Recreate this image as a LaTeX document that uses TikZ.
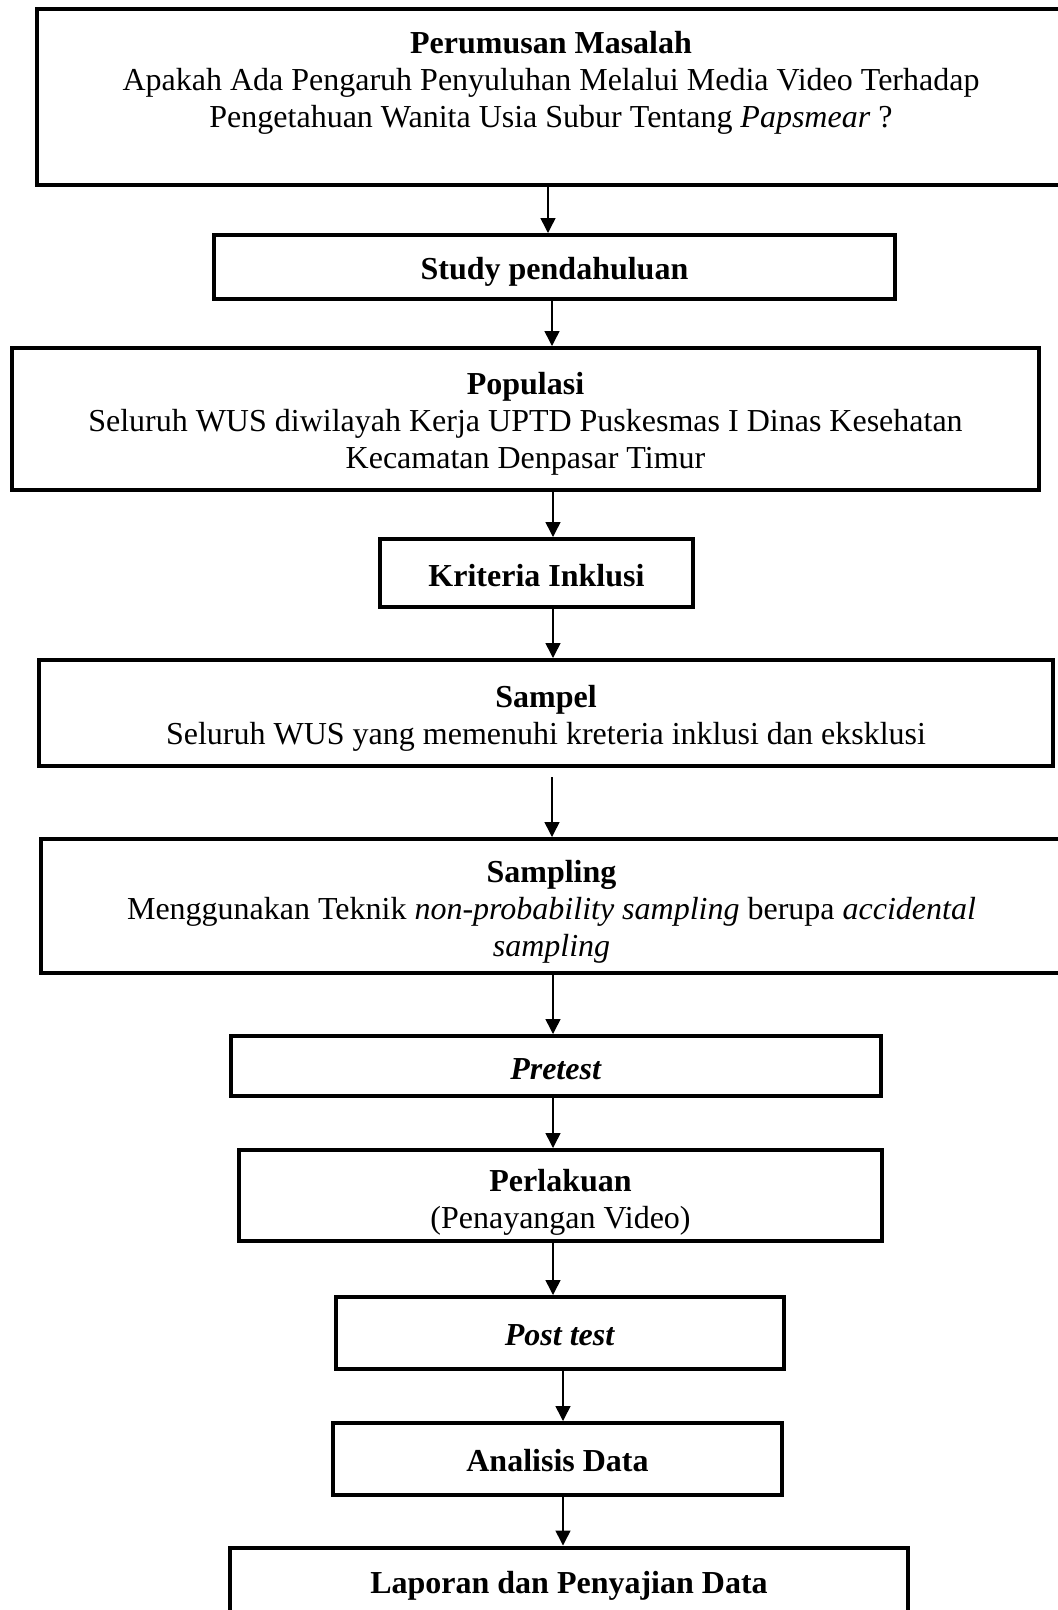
\documentclass[tikz,border=0pt]{standalone}
\usepackage{fontspec}
\setmainfont{Liberation Serif}
\usetikzlibrary{arrows.meta}
\tikzset{
  box/.style={draw, line width=4pt, inner sep=0pt},
  txt/.style={align=center, inner sep=0pt, font=\fontsize{32}{37}\selectfont},
  arr/.style={line width=1.5pt, -{Triangle[length=15pt,width=15pt]}}
}
\begin{document}
\begin{tikzpicture}[x=1pt,y=-1pt]
\useasboundingbox (0,0) rectangle (1058,1610);
\node[box, minimum width=1029pt, minimum height=176pt] (b1) at (551.5,97) {};
\node[txt] (t1) at (551,83) {\textbf{Perumusan Masalah}\\Apakah Ada Pengaruh Penyuluhan Melalui Media Video Terhadap\\Pengetahuan Wanita Usia Subur Tentang \textit{Papsmear} ?};
\node[box, minimum width=681pt, minimum height=64pt] (b2) at (554.5,267) {};
\node[txt] (t2) at ([yshift=-5pt]b2.center) {\textbf{Study pendahuluan}};
\node[box, minimum width=1027pt, minimum height=142pt] (b3) at (525.5,419) {};
\node[txt] (t3) at ([yshift=-5pt]b3.center) {\textbf{Populasi}\\Seluruh WUS diwilayah Kerja UPTD Puskesmas I Dinas Kesehatan\\Kecamatan Denpasar Timur};
\node[box, minimum width=313pt, minimum height=68pt] (b4) at (536.5,573) {};
\node[txt] (t4) at ([yshift=-3pt]b4.center) {\textbf{Kriteria Inklusi}};
\node[box, minimum width=1014pt, minimum height=106pt] (b5) at (546,713) {};
\node[txt] (t5) at ([yshift=-5pt]b5.center) {\textbf{Sampel}\\Seluruh WUS yang memenuhi kreteria inklusi dan eksklusi};
\node[box, minimum width=1021pt, minimum height=134pt] (b6) at (551.5,906) {};
\node[txt] (t6) at ([yshift=-6pt]b6.center) {\textbf{Sampling}\\Menggunakan Teknik \textit{non-probability sampling} berupa \textit{accidental}\\\textit{sampling}};
\node[box, minimum width=650pt, minimum height=60pt] (b7) at (556,1066) {};
\node[txt] (t7) at ([yshift=-3pt]b7.center) {\textbf{\textit{Pretest}}};
\node[box, minimum width=643pt, minimum height=91pt] (b8) at (560.5,1195.5) {};
\node[txt] (t8) at ([yshift=-6.5pt]b8.center) {\textbf{Perlakuan}\\(Penayangan Video)};
\node[box, minimum width=448pt, minimum height=72pt] (b9) at (560,1333) {};
\node[txt] (t9) at ([yshift=-2pt]b9.center) {\textbf{\textit{Post test}}};
\node[box, minimum width=449pt, minimum height=72pt] (b10) at (557.5,1459) {};
\node[txt] (t10) at ([yshift=-2pt]b10.center) {\textbf{Analisis Data}};
\node[box, minimum width=678pt, minimum height=72.5pt] (b11) at (569,1583.75) {};
\node[txt] (t11) at ([yshift=-2pt]b11.center) {\textbf{Laporan dan Penyajian Data}};
\draw[arr] (b1.south -| 548,0) -- (b2.north -| 548,0);
\draw[arr] (b2.south -| 552,0) -- (b3.north -| 552,0);
\draw[arr] (b3.south -| 553,0) -- (b4.north -| 553,0);
\draw[arr] (b4.south -| 553,0) -- (b5.north -| 553,0);
\draw[arr, shorten <=9pt] (b5.south -| 552,0) -- (b6.north -| 552,0);
\draw[arr] (b6.south -| 553,0) -- (b7.north -| 553,0);
\draw[arr] (b7.south -| 553,0) -- (b8.north -| 553,0);
\draw[arr] (b8.south -| 553,0) -- (b9.north -| 553,0);
\draw[arr] (b9.south -| 563,0) -- (b10.north -| 563,0);
\draw[arr] (b10.south -| 563,0) -- (b11.north -| 563,0);
\end{tikzpicture}
\end{document}
